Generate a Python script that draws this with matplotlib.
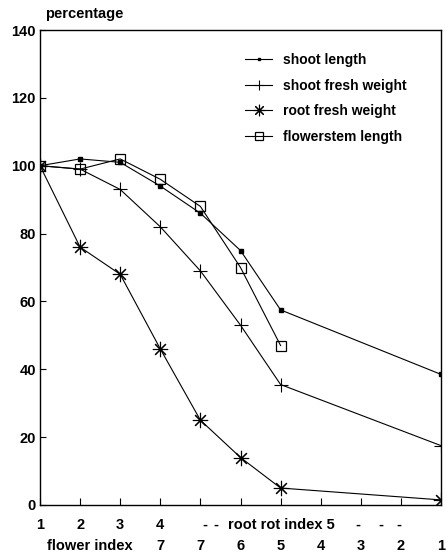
import matplotlib
matplotlib.use("Agg")
import matplotlib.pyplot as plt
from matplotlib.transforms import blended_transform_factory

# ==================================================
# DATA
# ==================================================
shoot_length_x = [1, 2, 3, 4, 5, 6, 7, 11]
shoot_length = [100, 102, 101, 94, 86, 75, 57.5, 38.5]

shoot_fresh_x = [1, 2, 3, 4, 5, 6, 7, 11]
shoot_fresh = [100, 99, 93, 82, 69, 53, 35.5, 17.5]

root_fresh_x = [1, 2, 3, 4, 5, 6, 7, 11]
root_fresh = [100, 76, 68, 46, 25, 14, 5, 1.5]

flowerstem_x = [1, 2, 3, 4, 5, 6, 7]
flowerstem = [100, 99, 102, 96, 88, 70, 47]

x_positions = [1, 2, 3, 4, 5, 6, 7, 8, 9, 10, 11]
root_rot_labels = ["1", "2", "3", "4"]
flower_labels = ["7", "7", "6", "5", "4", "3", "2", "1"]
y_ticks = [0, 20, 40, 60, 80, 100, 120, 140]

FONT = "Liberation Sans"
FS = 10.5

fig = plt.figure(figsize=(4.46, 5.57), dpi=100)
ax = fig.add_axes([40 / 446, 1 - 505 / 557, 401 / 446, 475 / 557])

lw = 0.8
ax.plot(shoot_length_x, shoot_length, color="black", lw=lw,
        marker="s", ms=2.5, label="shoot length")
ax.plot(shoot_fresh_x, shoot_fresh, color="black", lw=lw,
        marker="+", ms=10, mew=0.8, label="shoot fresh weight")
ax.plot(root_fresh_x, root_fresh, color="black", lw=lw,
        marker=(8, 2, 0), ms=11, mew=0.8, label="root fresh weight")
ax.plot(flowerstem_x, flowerstem, color="black", lw=lw,
        marker="s", ms=7.5, mfc="none", mew=0.9, label="flowerstem length")

ax.set_xlim(1, 11)
ax.set_ylim(0, 140)

for sp in ax.spines.values():
    sp.set_linewidth(1.0)

ax.set_yticks(y_ticks)
ax.set_yticklabels([str(v) for v in y_ticks], fontfamily=FONT,
                   fontweight="bold", fontsize=FS)
ax.tick_params(axis="y", direction="in", length=4, pad=3)

ax.set_xticks(x_positions)
ax.set_xticklabels([""] * len(x_positions))
ax.tick_params(axis="x", direction="in", length=5)

# two rows of x labels
trans = blended_transform_factory(ax.transData, ax.transAxes)
row1_y = -20 / 475
row2_y = -41 / 475
txt = dict(transform=trans, va="center", fontfamily=FONT, fontweight="bold", fontsize=FS)
for x, lab in zip(x_positions[:4], root_rot_labels):
    ax.text(x, row1_y, lab, ha="center", **txt)
for x in (5.12, 5.38, 8.93, 9.5, 9.95):
    ax.text(x, row1_y, "-", ha="center", **txt)
ax.text(5.68, row1_y, "root rot index 5", ha="left", **txt)

ax.text(1.18, row2_y, "flower index", ha="left", **txt)
for x, lab in zip(x_positions[3:], flower_labels):
    ax.text(x, row2_y, lab, ha="center", **txt)

fig.text(45 / 446, 1 - 14 / 557, "percentage", ha="left", va="center",
         fontfamily=FONT, fontweight="bold", fontsize=FS)

leg = ax.legend(loc="upper left", bbox_to_anchor=((245 - 40) / 401, (505 - 53) / 475),
                frameon=False, borderpad=0, borderaxespad=0, handlelength=1.95,
                handletextpad=0.8, labelspacing=0.83, markerscale=0.75,
                prop={"family": FONT, "weight": "bold", "size": 10})

fig.savefig("out.png", dpi=100)
